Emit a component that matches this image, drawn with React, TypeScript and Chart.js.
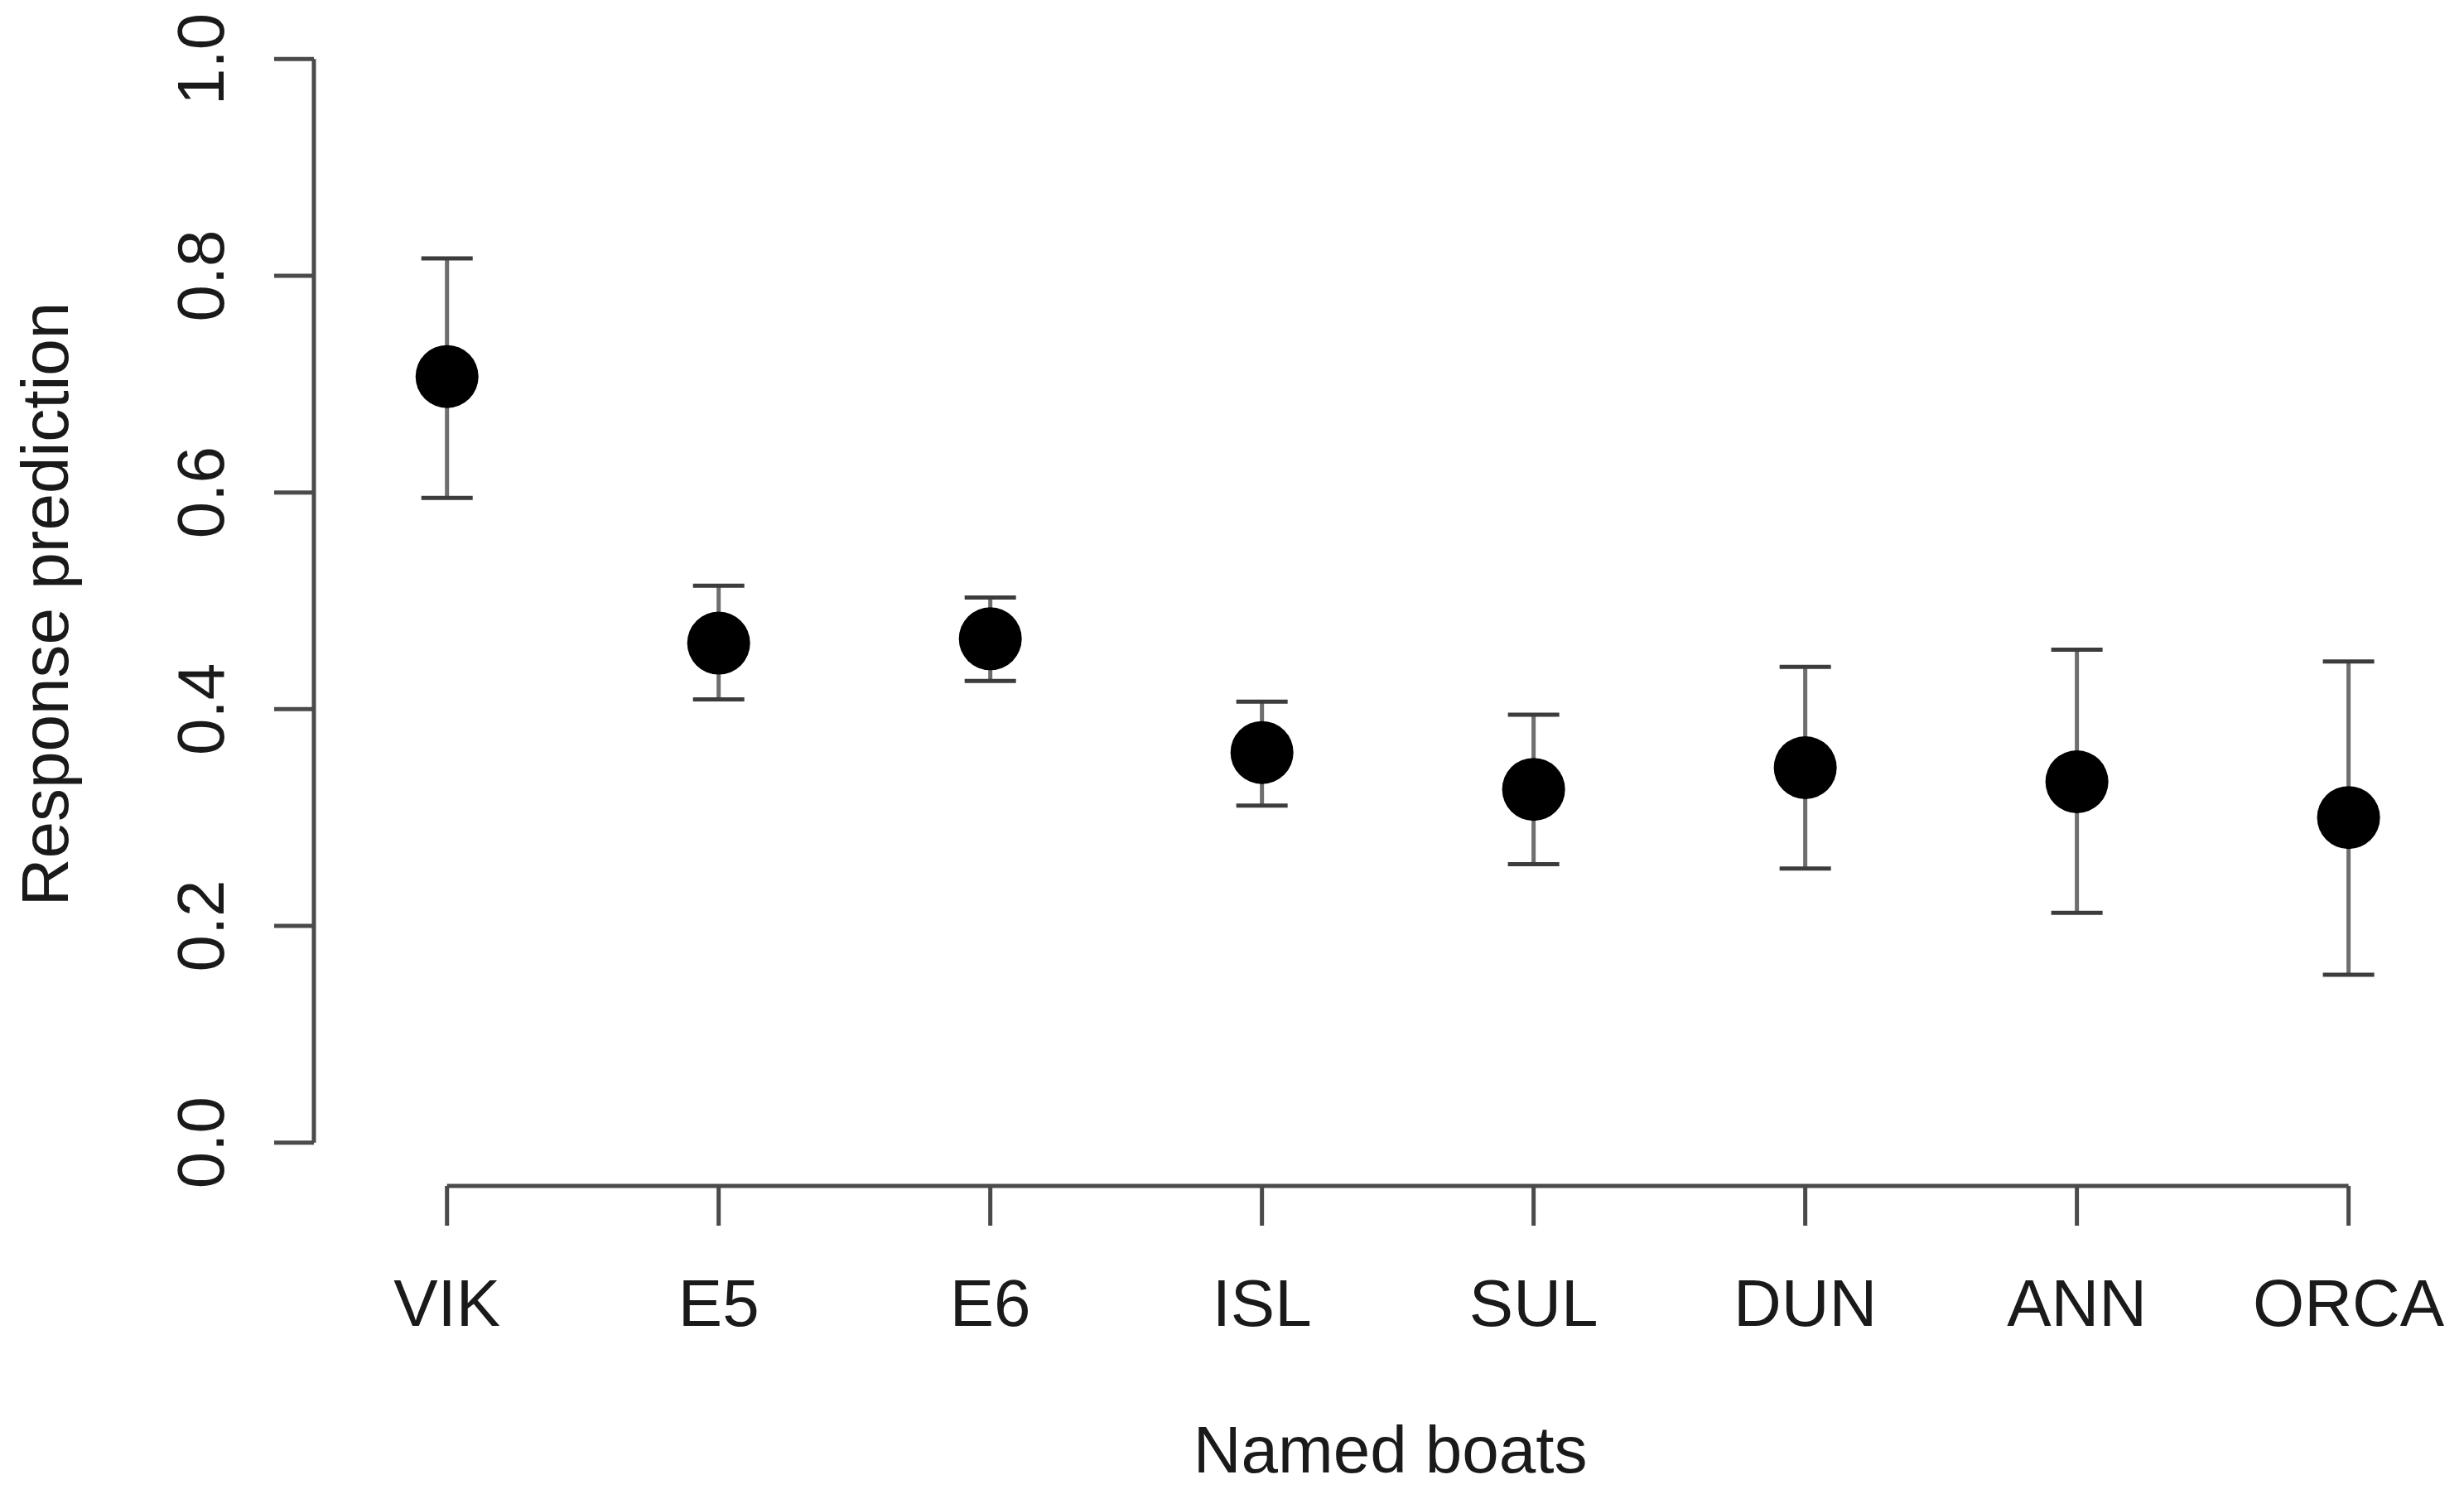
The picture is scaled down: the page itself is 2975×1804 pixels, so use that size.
import React, { useEffect, useRef } from "react";
import { Chart, registerables } from "chart.js";

Chart.register(...registerables);

const categories = ["VIK", "E5", "E6", "ISL", "SUL", "DUN", "ANN", "ORCA"];
const predictions = [0.707, 0.461, 0.465, 0.36, 0.326, 0.346, 0.333, 0.3];
const lowerCI = [0.595, 0.409, 0.426, 0.311, 0.257, 0.253, 0.212, 0.155];
const upperCI = [0.816, 0.514, 0.503, 0.407, 0.395, 0.439, 0.455, 0.444];
const yTickValues = [0, 0.2, 0.4, 0.6, 0.8, 1.0];
const yTickLabels = ["0.0", "0.2", "0.4", "0.6", "0.8", "1.0"];
const xTitle = "Named boats";
const yTitle = "Response prediction";

const W = 2975;
const H = 1804;
const FONT = '80px "Liberation Sans", Arial, sans-serif';
const TEXT = "#1a1a1a";
const AXIS = "#4a4a4a";

const rPlot = {
  id: "rPlot",
  beforeDatasetsDraw(chart: any) {
    const ctx = chart.ctx;
    const xs = chart.scales.x;
    const ys = chart.scales.y;
    ctx.save();
    predictions.forEach((_, i) => {
      const x = xs.getPixelForValue(i + 1);
      const yl = ys.getPixelForValue(lowerCI[i]);
      const yu = ys.getPixelForValue(upperCI[i]);
      ctx.strokeStyle = "#6e6e6e";
      ctx.lineWidth = 5;
      ctx.beginPath();
      ctx.moveTo(x, yl);
      ctx.lineTo(x, yu);
      ctx.stroke();
      ctx.strokeStyle = "#3c3c3c";
      ctx.lineWidth = 5;
      ctx.beginPath();
      ctx.moveTo(x - 31, yl);
      ctx.lineTo(x + 31, yl);
      ctx.moveTo(x - 31, yu);
      ctx.lineTo(x + 31, yu);
      ctx.stroke();
    });
    ctx.restore();
  },
  afterDraw(chart: any) {
    const ctx = chart.ctx;
    const xs = chart.scales.x;
    const ys = chart.scales.y;
    const area = chart.chartArea;
    ctx.save();
    ctx.strokeStyle = AXIS;
    ctx.lineWidth = 5;
    ctx.lineCap = "butt";
    // y axis
    const ax = area.left;
    const y0 = ys.getPixelForValue(yTickValues[0]);
    const y1 = ys.getPixelForValue(yTickValues[yTickValues.length - 1]);
    ctx.beginPath();
    ctx.moveTo(ax, y0);
    ctx.lineTo(ax, y1);
    yTickValues.forEach((v) => {
      const y = ys.getPixelForValue(v);
      ctx.moveTo(ax, y);
      ctx.lineTo(ax - 48, y);
    });
    ctx.stroke();
    // x axis
    const ay = area.bottom;
    const xa = xs.getPixelForValue(1);
    const xb = xs.getPixelForValue(categories.length);
    ctx.beginPath();
    ctx.moveTo(xa, ay);
    ctx.lineTo(xb, ay);
    categories.forEach((_, i) => {
      const x = xs.getPixelForValue(i + 1);
      ctx.moveTo(x, ay);
      ctx.lineTo(x, ay + 48);
    });
    ctx.stroke();

    ctx.fillStyle = TEXT;
    ctx.font = FONT;
    ctx.textBaseline = "alphabetic";
    ctx.textAlign = "center";
    categories.forEach((c, i) => {
      ctx.fillText(c, xs.getPixelForValue(i + 1), ay + 169);
    });
    yTickValues.forEach((v, i) => {
      const y = ys.getPixelForValue(v);
      ctx.save();
      ctx.translate(ax - 109, y);
      ctx.rotate(-Math.PI / 2);
      ctx.fillText(yTickLabels[i], 0, 0);
      ctx.restore();
    });
    // titles
    ctx.fillText(xTitle, (xa + xb) / 2 - 9, ay + 346);
    ctx.save();
    ctx.translate(82, (y0 + y1) / 2 + 4);
    ctx.rotate(-Math.PI / 2);
    ctx.fillText(yTitle, 0, 0);
    ctx.restore();
    ctx.restore();
  },
};

export default function App() {
  const ref = useRef<HTMLCanvasElement | null>(null);
  useEffect(() => {
    document.body.style.margin = "0";
    document.body.style.overflow = "hidden";
    const canvas = ref.current;
    if (!canvas) return;
    const chart = new Chart(canvas, {
      type: "scatter",
      data: {
        datasets: [
          {
            data: predictions.map((v, i) => ({ x: i + 1, y: v })),
            pointRadius: 38,
            pointHoverRadius: 38,
            pointBackgroundColor: "#000000",
            pointBorderWidth: 0,
            borderWidth: 0,
            clip: false,
          },
        ],
      },
      options: {
        animation: false,
        responsive: false,
        devicePixelRatio: 1,
        events: [],
        layout: {
          autoPadding: false,
          padding: { left: 379, top: 19, right: 0, bottom: H - 1432 },
        },
        scales: {
          x: { type: "linear", min: 0.51, max: 8.425, display: false },
          y: { type: "linear", min: -0.04, max: 1.04, display: false },
        },
        plugins: { legend: { display: false }, tooltip: { enabled: false } },
      },
      plugins: [rPlot],
    });
    return () => chart.destroy();
  }, []);
  return (
    <div style={{ width: W, height: H, background: "#ffffff" }}>
      <canvas ref={ref} width={W} height={H} style={{ display: "block" }} />
    </div>
  );
}
